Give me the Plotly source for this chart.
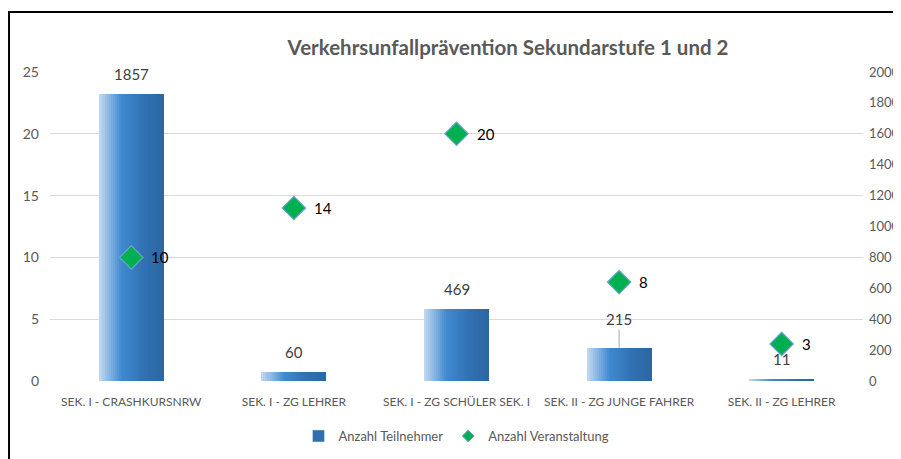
import plotly.graph_objects as go

categories = ["SEK. I - CRASHKURSNRW", "SEK. I - ZG LEHRER", "SEK. I - ZG SCHÜLER SEK. I",
              "SEK. II - ZG JUNGE FAHRER", "SEK. II - ZG LEHRER"]
teilnehmer = [1857, 60, 469, 215, 11]
veranstaltung = [10, 14, 20, 8, 3]
left_ticks = [0, 5, 10, 15, 20, 25]
right_ticks = [0, 200, 400, 600, 800, 1000, 1200, 1400, 1600, 1800, 2000]
grid_vals = [0, 400, 800, 1200, 1600, 2000]

FONT = "Lato, 'Open Sans', sans-serif"
GREY = "#595959"

def lerp(c1, c2, t):
    return tuple(int(round(a + (b - a) * t)) for a, b in zip(c1, c2))

stops = [(0.0, (196, 218, 240)), (0.35, (64, 138, 208)), (0.7, (48, 112, 178)), (1.0, (44, 102, 162))]
def grad(t):
    for (t0, c0), (t1, c1) in zip(stops[:-1], stops[1:]):
        if t <= t1:
            return "rgb(%d,%d,%d)" % lerp(c0, c1, (t - t0) / (t1 - t0))
    return "rgb(%d,%d,%d)" % stops[-1][1]

fig = go.Figure()
N = 32
bw = 0.4
step = bw / N
for i in range(N):
    fig.add_trace(go.Bar(
        x=categories, y=teilnehmer, yaxis="y",
        offset=-bw / 2 + i * step, width=step * (1.6 if i < N - 1 else 1.0),
        marker=dict(color=grad((i + 0.5) / N), line=dict(width=0)),
        showlegend=False, hoverinfo="skip",
    ))

fig.add_trace(go.Scatter(
    x=categories, y=veranstaltung, mode="markers", yaxis="y2",
    marker=dict(symbol="diamond", size=18, color="#00b050", line=dict(color="#6fa0d8", width=1.2)),
    showlegend=False,
))

# legend-only entries
fig.add_trace(go.Bar(x=[None], y=[None], name="Anzahl Teilnehmer", marker=dict(color="#2f6fb0"),
                     legendrank=1))
fig.add_trace(go.Scatter(x=[None], y=[None], mode="markers", name="Anzahl Veranstaltung", yaxis="y2",
                         marker=dict(symbol="diamond", size=9, color="#00b050",
                                     line=dict(color="#6fa0d8", width=1)), legendrank=2))

for c, v in zip(categories, veranstaltung):
    fig.add_annotation(x=c, y=v, yref="y2", text=str(v), showarrow=False, xshift=18, xanchor="left",
                       font=dict(family=FONT, size=15, color="#000000"))

for i, (c, v) in enumerate(zip(categories, teilnehmer)):
    if i == 3:
        fig.add_annotation(x=c, y=v, yref="y", text=str(v), showarrow=True, arrowhead=0,
                           arrowwidth=1, arrowcolor="#a6a6a6", ax=0, ay=-18, standoff=0,
                           font=dict(family=FONT, size=15, color="#404040"), yanchor="bottom")
    else:
        fig.add_annotation(x=c, y=v, yref="y", text=str(v), showarrow=False, yshift=9,
                           font=dict(family=FONT, size=15, color="#404040"), yanchor="bottom")

fig.add_shape(type="rect", xref="paper", yref="paper", x0=-0.0504, x1=1.3, y0=-0.6, y1=1.194,
              line=dict(color="#000000", width=2), fillcolor="rgba(0,0,0,0)", layer="above")

fig.update_layout(
    width=901, height=459,
    margin=dict(l=42, r=46, t=64, b=86, autoexpand=False),
    paper_bgcolor="white", plot_bgcolor="white",
    barmode="overlay", bargap=0,
    title=dict(text="<b>Verkehrsunfallprävention Sekundarstufe 1 und 2</b>",
               x=500 / 901, xref="container", xanchor="center",
               y=1 - 40 / 459, yref="container", yanchor="middle",
               font=dict(family=FONT, size=20.5, color=GREY)),
    font=dict(family=FONT, color=GREY),
    xaxis=dict(type="category", showgrid=False, showline=False, ticks="", automargin=False,
               tickangle=0, ticklabelstandoff=12, tickfont=dict(family=FONT, size=12, color=GREY)),
    yaxis=dict(range=[0, 2000], tickvals=right_ticks, side="right",
               showgrid=False, zeroline=False, ticks="", automargin=False,
               minor=dict(tickvals=grid_vals, showgrid=True, gridcolor="#d9d9d9", gridwidth=1, ticks=""),
               tickfont=dict(family=FONT, size=13, color=GREY), ticklabelstandoff=5),
    yaxis2=dict(range=[0, 25], tickvals=left_ticks, overlaying="y", side="left",
                showgrid=False, zeroline=False, ticks="", automargin=False,
                tickfont=dict(family=FONT, size=14, color=GREY), ticklabelstandoff=10),
    legend=dict(orientation="h", x=0.50, xanchor="center", y=-0.178, yanchor="middle",
                font=dict(family=FONT, size=13, color=GREY), itemwidth=30,
                traceorder="normal"),
)

fig.write_html("out.html")
